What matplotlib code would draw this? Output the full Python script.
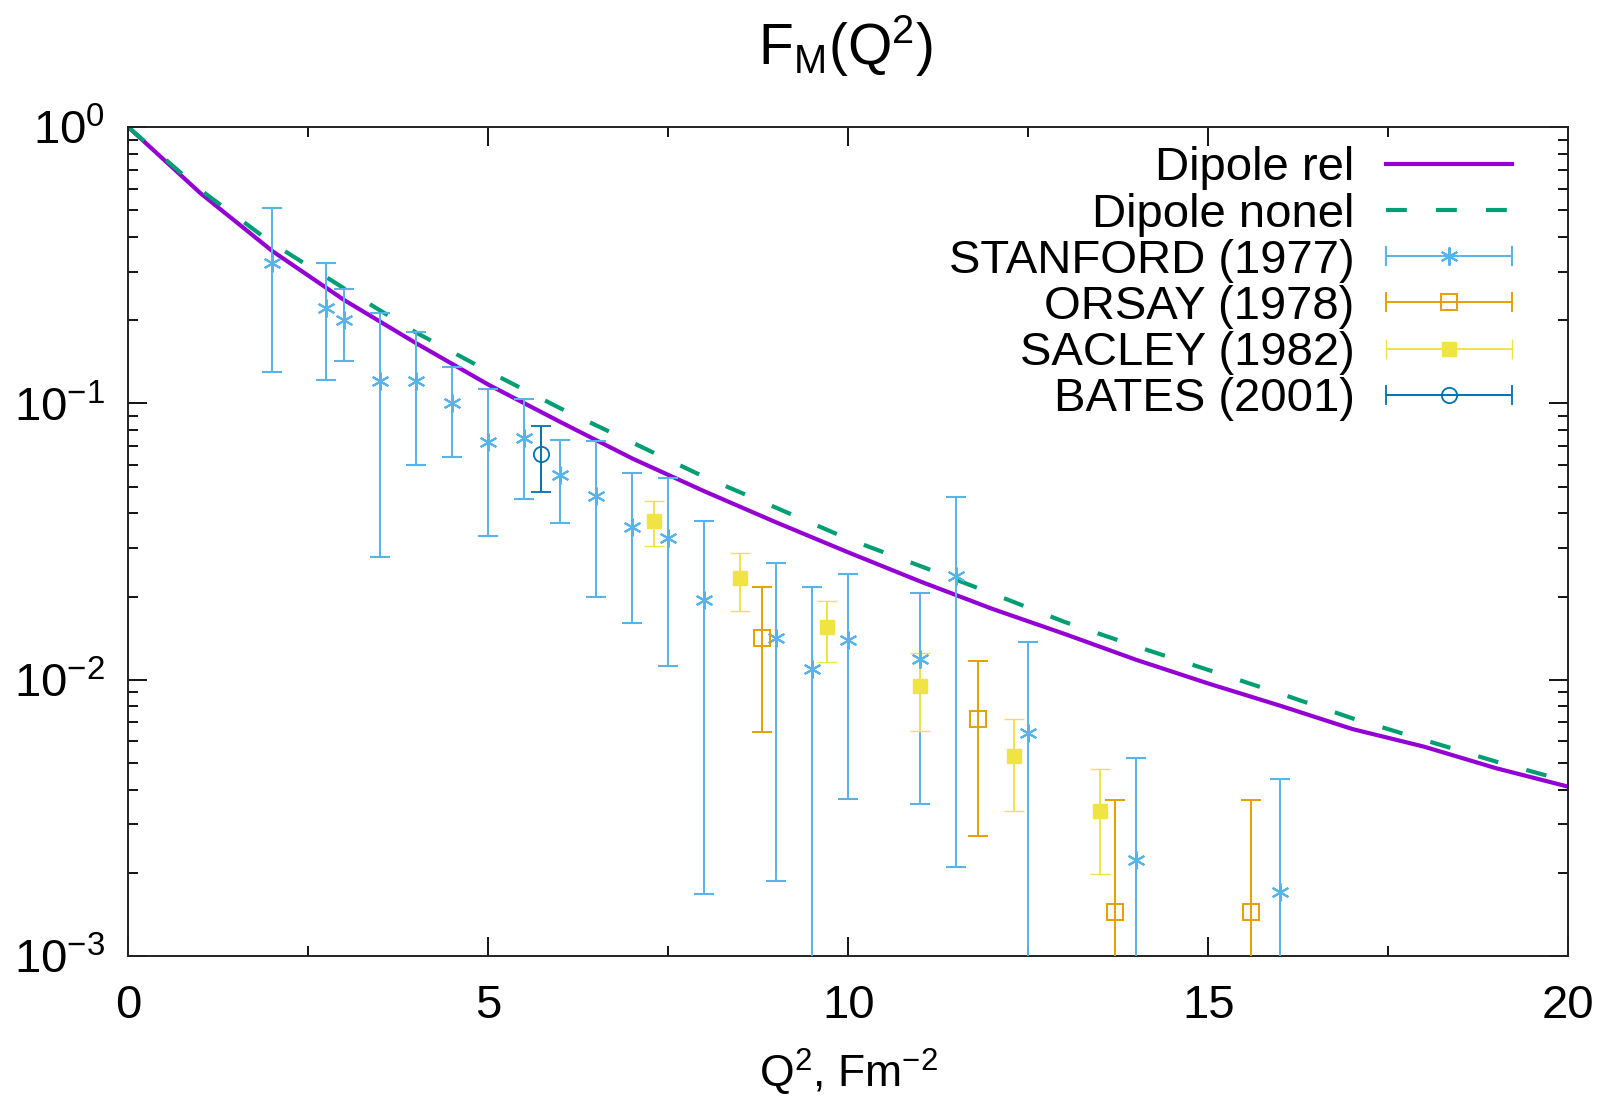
import numpy as np
import matplotlib
matplotlib.use("Agg")
import matplotlib.pyplot as plt
from matplotlib.legend_handler import HandlerErrorbar
from matplotlib.ticker import LogLocator, FixedLocator, NullFormatter

# ---------------- data ----------------
# Model curves, sampled at integer Q^2 (fm^-2)
q2_model = [0, 1, 2, 3, 4, 5, 6, 7, 8, 9, 10, 11, 12, 13, 14, 15, 16, 17, 18, 19, 20]
dipole_rel = [1.0, 0.577, 0.356, 0.2365, 0.165, 0.117, 0.0857, 0.0632, 0.0481, 0.0371,
              0.0289, 0.02268, 0.01805, 0.01466, 0.0118, 0.00969, 0.00805, 0.00663,
              0.00572, 0.00478, 0.0041]
dipole_nonrel = [1.0, 0.593, 0.380, 0.2606, 0.1804, 0.1307, 0.0960, 0.0722, 0.0542, 0.0419,
                 0.0323, 0.0258, 0.0205, 0.0162, 0.0132, 0.01085, 0.00891, 0.00725,
                 0.00605, 0.00505, 0.00428]

# STANFORD (1977)
stan_q2 = [2.0, 2.75, 3.0, 3.5, 4.0, 4.5, 5.0, 5.5, 6.0, 6.5, 7.0, 7.5, 8.0, 9.0, 9.5,
           10.0, 11.0, 11.5, 12.5, 14.0, 16.0]
stan_val = [0.322, 0.221, 0.200, 0.1206, 0.1206, 0.100, 0.0727, 0.0748, 0.0553, 0.0462,
            0.0358, 0.0326, 0.0194, 0.0142, 0.01094, 0.0139, 0.01185, 0.0237, 0.00643,
            0.00222, 0.00171]
stan_hi = [0.512, 0.322, 0.259, 0.213, 0.1815, 0.136, 0.113, 0.104, 0.0737, 0.0730,
           0.0558, 0.0537, 0.0374, 0.0265, 0.0217, 0.0241, 0.02065, 0.0459, 0.01366,
           0.00519, 0.00438]
stan_lo = [0.130, 0.122, 0.142, 0.0277, 0.0598, 0.0638, 0.0331, 0.0451, 0.0370, 0.0199,
           0.0161, 0.01125, 0.00168, 0.00187, 1e-4, 0.00369, 0.00354, 0.00209, 1e-4,
           1e-4, 1e-4]

# ORSAY (1978)
orsay_q2 = [8.8, 11.8, 13.7, 15.6]
orsay_val = [0.0142, 0.00719, 0.00144, 0.00144]
orsay_hi = [0.0217, 0.01166, 0.00367, 0.00367]
orsay_lo = [0.00644, 0.00272, 1e-4, 1e-4]

# SACLEY (1982)
sacl_q2 = [7.3, 8.5, 9.7, 11.0, 12.3, 13.5]
sacl_val = [0.0374, 0.0233, 0.0155, 0.00951, 0.00529, 0.00336]
sacl_hi = [0.0444, 0.0287, 0.01925, 0.01246, 0.00723, 0.00474]
sacl_lo = [0.0304, 0.01766, 0.01155, 0.00652, 0.00336, 0.00198]

# BATES (2001)
bates_q2 = [5.73]
bates_val = [0.0655]
bates_hi = [0.0831]
bates_lo = [0.0477]

x_ticks = [0, 5, 10, 15, 20]

# ---------------- style ----------------
FONT = "Liberation Sans"
plt.rcParams["font.family"] = [FONT, "DejaVu Sans"]
plt.rcParams["mathtext.fontset"] = "custom"
plt.rcParams["mathtext.rm"] = FONT
plt.rcParams["mathtext.it"] = FONT
plt.rcParams["mathtext.bf"] = FONT
plt.rcParams["mathtext.sf"] = FONT
plt.rcParams["mathtext.default"] = "regular"

C_REL = "#9400d3"
C_NONREL = "#009e73"
C_STAN = "#56b4e9"
C_ORSAY = "#e69f00"
C_SACL = "#f0e442"
C_BATES = "#0072b2"

FS = 34  # text size shared by ticks and legend

fig = plt.figure(figsize=(16.1, 10.99), dpi=100)
ax = fig.add_axes([0.0798, 0.1302, 0.8942, 0.7540])

ax.plot(q2_model, dipole_rel, color=C_REL, lw=3.0, label="Dipole rel", zorder=2)
ax.plot(q2_model, dipole_nonrel, color=C_NONREL, lw=3.0, dashes=(5, 7),
        label="Dipole nonel", zorder=2)


def yerr_of(val, hi, lo):
    v = np.asarray(val)
    return np.vstack([v - np.asarray(lo), np.asarray(hi) - v])


ebkw = dict(linestyle="none", elinewidth=1.4, capsize=7, capthick=1.4, zorder=3)
mk_stan = dict(marker=(6, 2, 0), ms=13, mew=1.5)
mk_orsay = dict(marker="s", ms=11, mfc="none", mew=1.4)
mk_sacl = dict(marker="s", ms=10.5, mew=1.0)
mk_bates = dict(marker="o", ms=11, mfc="none", mew=1.3)

ax.errorbar(stan_q2, stan_val, yerr=yerr_of(stan_val, stan_hi, stan_lo), color=C_STAN,
            **mk_stan, **ebkw)
ax.errorbar(orsay_q2, orsay_val, yerr=yerr_of(orsay_val, orsay_hi, orsay_lo), color=C_ORSAY,
            **mk_orsay, **ebkw)
ax.errorbar(sacl_q2, sacl_val, yerr=yerr_of(sacl_val, sacl_hi, sacl_lo), color=C_SACL,
            **mk_sacl, **ebkw)
ax.errorbar(bates_q2, bates_val, yerr=yerr_of(bates_val, bates_hi, bates_lo), color=C_BATES,
            **mk_bates, **ebkw)

# Legend keys: horizontal error bars with caps
proxies = []
for col, kw in [(C_STAN, mk_stan), (C_ORSAY, mk_orsay), (C_SACL, mk_sacl),
                (C_BATES, mk_bates)]:
    h = ax.errorbar([np.nan], [np.nan], xerr=[[0.0], [0.0]], color=col,
                    linestyle="none", elinewidth=1.4, capsize=7, capthick=1.4, **kw)
    proxies.append(h)

ax.set_yscale("log")
ax.set_xlim(0, 20)
ax.set_ylim(1e-3, 1)

ax.xaxis.set_major_locator(FixedLocator(x_ticks))
ax.xaxis.set_minor_locator(FixedLocator([2.5, 7.5, 12.5, 17.5]))
ax.yaxis.set_major_locator(LogLocator(base=10, numticks=10))
ax.yaxis.set_minor_locator(LogLocator(base=10, subs=np.arange(2, 10), numticks=20))
ax.yaxis.set_minor_formatter(NullFormatter())

ax.tick_params(which="both", direction="in", top=True, right=True, color="black")
ax.tick_params(which="major", length=14, width=1.3, labelsize=FS)
ax.tick_params(which="minor", length=7, width=1.3)
ax.tick_params(axis="x", which="major", pad=20)
ax.tick_params(axis="y", which="major", pad=17)
for s in ax.spines.values():
    s.set_linewidth(1.4)
    s.set_color("#222222")

fig.text(0.525, 0.941, r"$F_M(Q^2)$", fontsize=41, ha="center", va="baseline")
ax.set_xlabel(r"$Q^2$, Fm$^{-2}$", fontsize=32, labelpad=14)

handles = [ax.get_lines()[0], ax.get_lines()[1]] + proxies
labels = ["Dipole rel", "Dipole nonel", "STANFORD (1977)", "ORSAY (1978)",
          "SACLEY (1982)", "BATES (2001)"]
HL = 2.67
hmap = {p: HandlerErrorbar(xerr_size=HL / 2) for p in proxies}
leg = ax.legend(handles, labels, loc="upper right", bbox_to_anchor=(0.961, 0.977),
                frameon=False, markerfirst=False, fontsize=FS, handlelength=HL,
                handletextpad=0.66, labelspacing=0.047, borderpad=0, borderaxespad=0,
                numpoints=1, handler_map=hmap)

fig.savefig("out.png", dpi=100)
